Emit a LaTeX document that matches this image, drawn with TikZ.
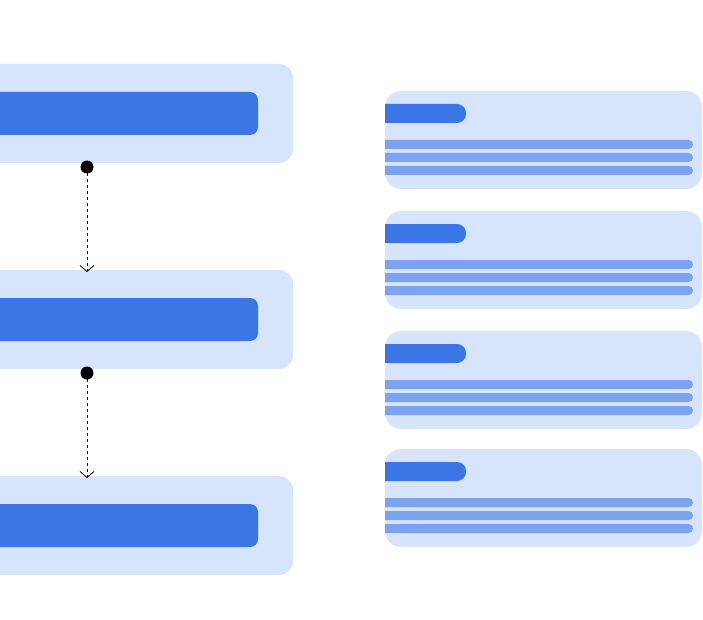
\documentclass[tikz,border=0pt]{standalone}
\usetikzlibrary{arrows.meta}
\definecolor{lightb}{HTML}{D6E4FC}
\definecolor{darkb}{HTML}{3B76E6}
\definecolor{lineb}{HTML}{7BA3F0}
\begin{document}
\begin{tikzpicture}[x=1pt,y=-1pt,
  outer/.style={fill=lightb,rounded corners=14pt},
  inner/.style={fill=darkb,rounded corners=8pt},
  hdr/.style={fill=darkb,rounded corners=9pt},
  ln/.style={fill=lineb,rounded corners=4.5pt},
  conn/.style={thick,dashed,-{Straight Barb[length=6pt,width=14pt]}}]
\useasboundingbox (0,0) rectangle (703,620);
\clip (0,0) rectangle (703,620);
\foreach \y/\n in {64/a,270/b,476/c}{
  \fill[outer] (-30,\y) rectangle (293,\y+99);
  \fill[inner] (-30,\y+28) rectangle (258,\y+71);
  \coordinate (top\n) at (87,\y);
  \coordinate (bot\n) at (87,\y+103);
}
\fill (bota) circle (6.5);
\fill (botb) circle (6.5);
\draw[conn] (bota) -- ([yshift=-2pt]topb);
\draw[conn] (botb) -- ([yshift=-2pt]topc);
\foreach \y in {91,211,331,449}{
  \begin{scope}
  \fill[outer,rounded corners=16pt] (385,\y) rectangle (702,\y+98);
  \clip (385,\y) rectangle (702,\y+98);
  \fill[hdr] (370,\y+13) rectangle (466,\y+32);
  \foreach \o in {49,62,75}
    \fill[ln] (370,\y+\o) rectangle (693,\y+\o+9);
  \end{scope}
}
\end{tikzpicture}
\end{document}
